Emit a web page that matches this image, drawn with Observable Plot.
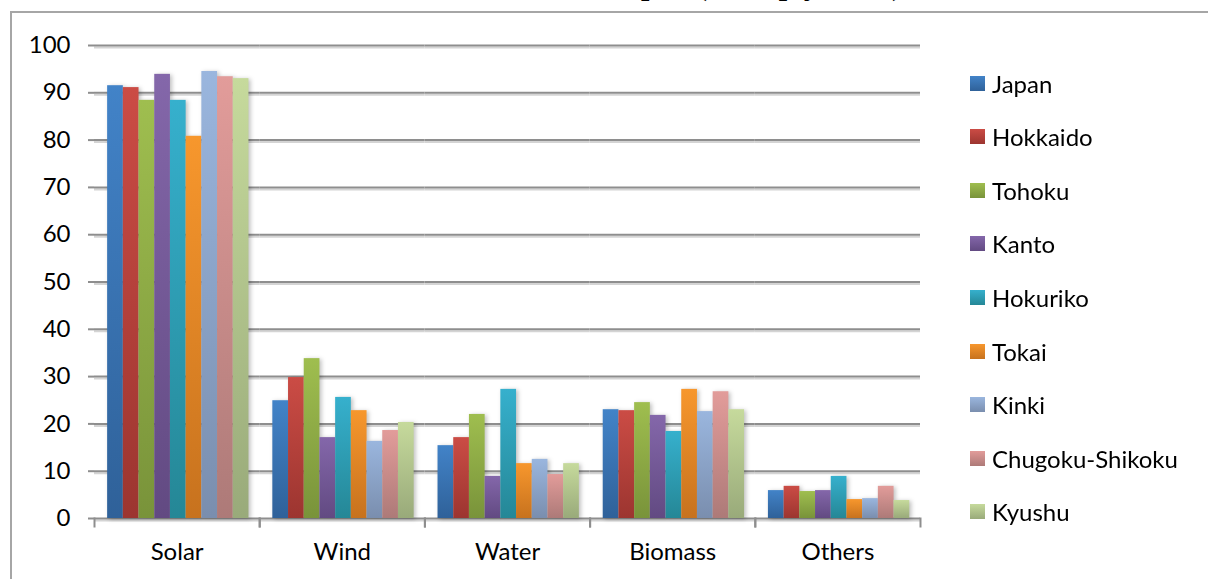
<!DOCTYPE html>
<html><head><meta charset="utf-8">
<script src="https://cdn.jsdelivr.net/npm/d3@7"></script>
<script src="https://cdn.jsdelivr.net/npm/@observablehq/plot@0.6"></script>
<style>
body{margin:0;width:1208px;height:579px;overflow:hidden;background:#fff;position:relative;font-family:Lato,sans-serif}
#chart{position:absolute;left:0;top:0}
#frame{position:absolute;left:10px;top:11px;width:1400px;height:800px;border:2px solid #a6a6a6;box-sizing:border-box;pointer-events:none}
#title{position:absolute;right:306px;top:-30px;font:bold 30px/30px "Liberation Serif",serif;white-space:nowrap;color:#000}
#legend{position:absolute;left:970px;top:0;width:238px;height:579px}
.row{position:absolute;left:0;height:30px;display:flex;align-items:center}
.sw{width:15px;height:15px;margin-right:7px}
.lb{font-size:24px;color:#000;white-space:nowrap}
</style></head><body>
<div id="chart"></div>
<div id="title">Renewable Sources Wanted in Each Area of Japan (Multiply, 2012)</div>
<div id="frame"></div>
<div id="legend"></div>
<script>
const categories = ["Solar", "Wind", "Water", "Biomass", "Others"];
const regions = ["Japan", "Hokkaido", "Tohoku", "Kanto", "Hokuriko", "Tokai", "Kinki", "Chugoku-Shikoku", "Kyushu"];
const solar   = [91.5, 91.1, 88.4, 93.9, 88.4, 80.8, 94.5, 93.4, 93.0];
const wind    = [24.9, 29.8, 33.8, 17.1, 25.6, 22.8, 16.3, 18.6, 20.3];
const water   = [15.4, 17.1, 22.0, 8.9, 27.3, 11.6, 12.5, 9.3, 11.6];
const biomass = [23.0, 22.8, 24.5, 21.8, 18.4, 27.3, 22.6, 26.8, 23.0];
const others  = [5.9, 6.8, 5.7, 5.9, 8.9, 4.0, 4.2, 6.8, 3.8];
const yTicks = [0, 10, 20, 30, 40, 50, 60, 70, 80, 90, 100];
const colorTop    = ["#4283c8", "#cb4c45", "#9fbe4f", "#8467aa", "#36b0cd", "#f7972d", "#9ab6de", "#e29c9a", "#c6da9c"];
const colorBottom = ["#2f6199", "#9c3530", "#79933a", "#624a82", "#258796", "#c7721e", "#7a8eae", "#ad7a78", "#99aa7a"];

const series = [solar, wind, water, biomass, others];
const data = [];
categories.forEach((c, ci) => regions.forEach((r, ri) => data.push({category: c, region: r, value: series[ci][ri]})));

const gray = "#8e8e8e";
const plot = Plot.plot({
  width: 1208,
  height: 579,
  marginLeft: 94,
  marginRight: 288,
  marginTop: 45,
  marginBottom: 53,
  style: {background: "transparent", overflow: "visible", fontFamily: "Lato, sans-serif", color: "#000"},
  fx: {domain: categories, padding: 0, round: false, axis: null},
  x: {domain: regions, paddingInner: 0, paddingOuter: 0.76, align: 0.55, round: false, axis: null},
  y: {domain: [0, 100], insetBottom: 8, axis: null},
  color: {domain: regions, range: regions.map((_, i) => `url(#grad${i})`)},
  marks: [
    Plot.gridY(yTicks, {stroke: "#d4d4d4", strokeOpacity: 1, strokeWidth: 2, dy: 2}),
    Plot.gridY(yTicks, {stroke: gray, strokeOpacity: 1, strokeWidth: 2}),
    Plot.frame({anchor: "left", stroke: gray, strokeWidth: 2, insetTop: 473}),
    Plot.frame({anchor: "right", stroke: gray, strokeWidth: 2, insetTop: 473}),
    Plot.axisY({ticks: yTicks, tickSize: 6, tickPadding: 18, fontSize: 24, stroke: gray, strokeWidth: 2, strokeOpacity: 1, line: true, label: null, fill: "#000"}),
    Plot.barY(data, {fx: "category", x: "region", y: "value", fill: "region", inset: 0}),
    Plot.axisFx({anchor: "bottom", tickSize: 0, tickPadding: 16, fontSize: 24, label: null, fill: "#000"})
  ]
});
document.getElementById("chart").appendChild(plot);

// gradient defs for bar fills
const svg = d3.select(plot);
const defs = svg.insert("defs", ":first-child");
regions.forEach((r, i) => {
  const g = defs.append("linearGradient").attr("id", `grad${i}`).attr("x1", 0).attr("y1", 0).attr("x2", 0).attr("y2", 1);
  g.append("stop").attr("offset", "0%").attr("stop-color", colorTop[i]);
  g.append("stop").attr("offset", "100%").attr("stop-color", colorBottom[i]);
});
svg.selectAll("g[aria-label=bar]").style("filter", "drop-shadow(2px 1px 2px rgba(0,0,0,0.25))");

// legend
const legend = d3.select("#legend");
regions.forEach((r, i) => {
  const row = legend.append("div").attr("class", "row").style("top", `${68 + i * 53.6}px`);
  row.append("div").attr("class", "sw").style("background", `linear-gradient(${colorTop[i]}, ${colorBottom[i]})`);
  row.append("div").attr("class", "lb").text(r);
});
</script>
</body></html>
